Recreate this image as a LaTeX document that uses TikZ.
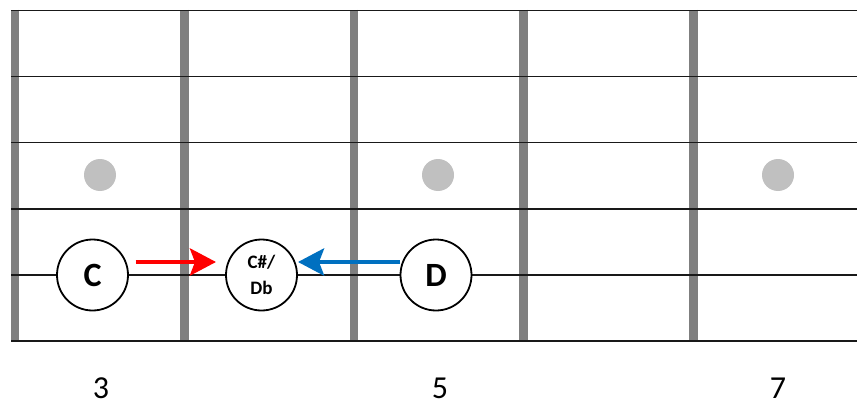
\documentclass[tikz,border=0pt]{standalone}
\usepackage{fontspec}
\setmainfont{Carlito}
\usetikzlibrary{arrows.meta}
\definecolor{fretgray}{HTML}{7F7F7F}
\definecolor{dotgray}{HTML}{C0C0C0}
\definecolor{arrred}{HTML}{FF0000}
\definecolor{arrblue}{HTML}{0070C0}
\tikzset{
  fretbar/.style={draw=fretgray, line width=8.5pt},
  stringline/.style={draw=black!90, line width=1.6pt},
  markdot/.style={circle, fill=dotgray, minimum size=32pt, inner sep=0pt},
  notecircle/.style={circle, draw=black, line width=1.8pt, fill=white, minimum size=71pt, inner sep=0pt, font=\bfseries\fontsize{34}{36}\selectfont},
  smallnote/.style={notecircle, font=\bfseries\fontsize{19}{26}\selectfont, align=center},
  fretnum/.style={font=\fontsize{32}{34}\selectfont, anchor=base, inner sep=0pt},
  moveArrow/.style={line width=4.6pt, -{Stealth[length=26pt,width=27pt,inset=5pt]}}
}
\begin{document}
\begin{tikzpicture}[x=1pt,y=-1pt]
\useasboundingbox (0,0) rectangle (857,404);
\fill[white] (0,0) rectangle (857,404);
% frets
\foreach \fx/\nm in {15/f0,184.5/f1,354/f2,523.5/f3,693.5/f4}{
  \coordinate (\nm t) at (\fx,10);
  \coordinate (\nm b) at (\fx,341.5);
  \draw[fretbar] (\nm t) -- (\nm b);
}
% strings
\foreach \sy/\nm in {10.5/s1,76.5/s2,142.5/s3,209/s4,275/s5,341/s6}{
  \coordinate (\nm l) at (11,\sy);
  \coordinate (\nm r) at (857,\sy);
  \draw[stringline] (\nm l) -- (\nm r);
}
% inlay dots
\node[markdot] (d3) at (100,175) {};
\node[markdot] (d5) at (438,175) {};
\node[markdot] (d7) at (778,175) {};
% notes
\node[notecircle] (C) at (92.5,275) {C};
\node[smallnote] (CsDb) at (261.5,275) {C\#/\\Db};
\node[notecircle] (D) at (436,275) {D};
% arrows
\coordinate (ra) at (135.5,262);
\coordinate (rb) at (216,262);
\coordinate (ba) at (400,262);
\coordinate (bb) at (298,262);
\draw[moveArrow, draw=arrred, fill=arrred] (ra) -- (rb);
\draw[moveArrow, draw=arrblue, fill=arrblue] (ba) -- (bb);
% fret numbers
\node[fretnum] (n3) at (101,398) {3};
\node[fretnum] (n5) at (440,398) {5};
\node[fretnum] (n7) at (778,398) {7};
\end{tikzpicture}
\end{document}
